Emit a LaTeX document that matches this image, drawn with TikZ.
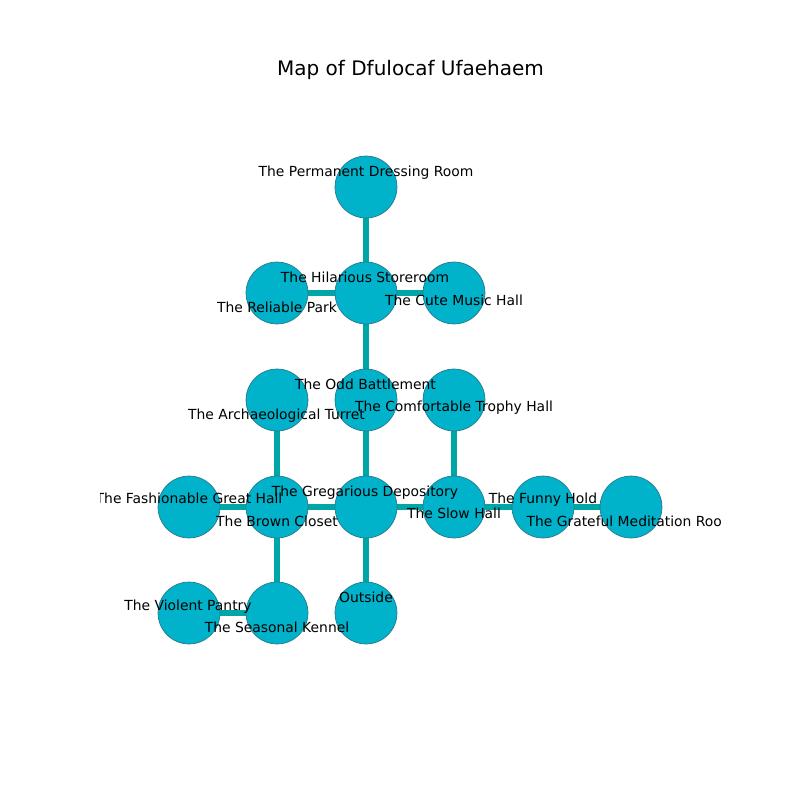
\documentclass[tikz,border=0pt]{standalone}
\usepackage{fontspec}
\setmainfont{DejaVu Sans}
\definecolor{nodefill}{RGB}{0,178,202}
\definecolor{nodeline}{RGB}{40,120,140}
\definecolor{edgecol}{RGB}{0,166,166}
\begin{document}
\begin{tikzpicture}[x=0.72pt,y=-0.72pt,
  room/.style={circle,fill=nodefill,draw=nodeline,line width=0.5pt,minimum size=44.6pt,inner sep=0pt},
  link/.style={edgecol,line width=4pt},
  lbl/.style={font=\fontsize{10}{12}\selectfont,anchor=base,inner sep=0pt}]
\useasboundingbox (0,0) rectangle (800,800);
\fill[white] (0,0) rectangle (800,800);
\node[font=\fontsize{14.4}{17}\selectfont,anchor=base,inner sep=0pt] (title) at (410.5,75) {Map of Dfulocaf Ufaehaem};
% node positions
\coordinate (pdr) at (366,187);
\coordinate (hs) at (366,293);
\coordinate (rp) at (277,293);
\coordinate (cmh) at (454,293);
\coordinate (ob) at (366,400);
\coordinate (at) at (277,400);
\coordinate (cth) at (454,400);
\coordinate (gd) at (366,507);
\coordinate (bc) at (277,507);
\coordinate (fgh) at (189,507);
\coordinate (sh) at (454,507);
\coordinate (fh) at (543,507);
\coordinate (gmr) at (631,507);
\coordinate (vp) at (189,613);
\coordinate (sk) at (277,613);
\coordinate (out) at (366,613);
% edges
\draw[link] (pdr) -- (hs);
\draw[link] (rp) -- (hs);
\draw[link] (hs) -- (cmh);
\draw[link] (hs) -- (ob);
\draw[link] (ob) -- (gd);
\draw[link] (at) -- (bc);
\draw[link] (fgh) -- (bc);
\draw[link] (bc) -- (gd);
\draw[link] (gd) -- (sh);
\draw[link] (cth) -- (sh);
\draw[link] (sh) -- (fh);
\draw[link] (fh) -- (gmr);
\draw[link] (bc) -- (sk);
\draw[link] (vp) -- (sk);
\draw[link] (gd) -- (out);
% nodes
\foreach \n in {pdr,hs,rp,cmh,ob,at,cth,gd,bc,fgh,sh,fh,gmr,vp,sk,out}
  \node[room] (n\n) at (\n) {};
% labels
\begin{scope}
\clip (100,96) rectangle (720,712);
\node[lbl] (lpdr) at (366,176) {The Permanent Dressing Room};
\node[lbl] (lhs) at (365,282) {The Hilarious Storeroom};
\node[lbl] (lrp) at (277,312) {The Reliable Park};
\node[lbl] (lcmh) at (454,305) {The Cute Music Hall};
\node[lbl] (lob) at (365.5,389) {The Odd Battlement};
\node[lbl] (lat) at (276.5,419) {The Archaeological Turret};
\node[lbl] (lcth) at (454,411) {The Comfortable Trophy Hall};
\node[lbl] (lgd) at (365,496) {The Gregarious Depository};
\node[lbl] (lfgh) at (189,503) {The Fashionable Great Hall};
\node[lbl] (lbc) at (277,526) {The Brown Closet};
\node[lbl] (lsh) at (454,518) {The Slow Hall};
\node[lbl] (lfh) at (543,503) {The Funny Hold};
\node[lbl] (lgmr) at (631,526) {The Grateful Meditation Room};
\node[lbl] (lvp) at (188,610) {The Violent Pantry};
\node[lbl] (lsk) at (277,632) {The Seasonal Kennel};
\node[lbl] (lout) at (366,602) {Outside};
\end{scope}
\end{tikzpicture}
\end{document}
